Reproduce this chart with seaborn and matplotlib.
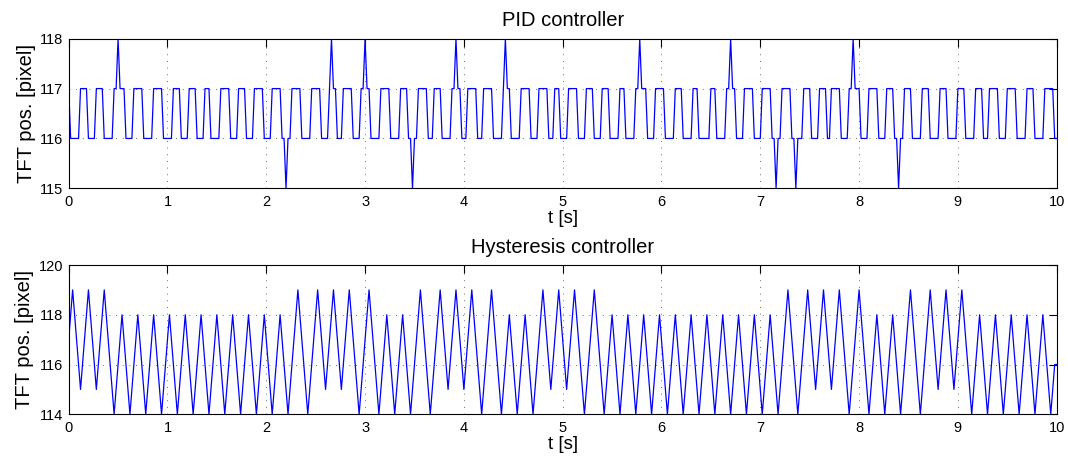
import matplotlib
matplotlib.use("Agg")
import matplotlib.pyplot as plt
import pandas as pd
import seaborn as sns

# PID controller: TFT position [pixel] at the corners of the trace, time in s
pid_t = [0.00, 0.02, 0.10, 0.12, 0.18, 0.20, 0.26, 0.28, 0.34, 0.36, 0.44, 0.46, 0.48, 0.50, 0.52,
         0.56, 0.58, 0.64, 0.66, 0.74, 0.76, 0.84, 0.86, 0.94, 0.96, 1.04, 1.06, 1.12, 1.14, 1.20,
         1.22, 1.28, 1.30, 1.36, 1.38, 1.42, 1.44, 1.52, 1.54, 1.62, 1.64, 1.70, 1.72, 1.78, 1.80,
         1.86, 1.88, 1.96, 1.98, 2.04, 2.06, 2.14, 2.16, 2.18, 2.20, 2.22, 2.24, 2.26, 2.34, 2.36,
         2.44, 2.46, 2.54, 2.56, 2.62, 2.64, 2.66, 2.68, 2.70, 2.72, 2.76, 2.78, 2.86, 2.88, 2.94,
         2.96, 2.98, 3.00, 3.02, 3.04, 3.06, 3.14, 3.16, 3.24, 3.26, 3.34, 3.36, 3.42, 3.44, 3.46,
         3.48, 3.50, 3.52, 3.54, 3.62, 3.64, 3.68, 3.70, 3.76, 3.78, 3.86, 3.88, 3.90, 3.92, 3.94,
         3.96, 3.98, 4.02, 4.04, 4.12, 4.14, 4.18, 4.20, 4.28, 4.30, 4.38, 4.40, 4.42, 4.44, 4.46,
         4.48, 4.56, 4.58, 4.66, 4.68, 4.74, 4.76, 4.84, 4.86, 4.90, 4.92, 4.96, 4.98, 5.04, 5.06,
         5.14, 5.16, 5.22, 5.24, 5.30, 5.32, 5.38, 5.40, 5.46, 5.48, 5.56, 5.58, 5.62, 5.64, 5.72,
         5.74, 5.76, 5.78, 5.80, 5.84, 5.86, 5.92, 5.94, 6.02, 6.04, 6.12, 6.14, 6.20, 6.22, 6.30,
         6.32, 6.36, 6.38, 6.48, 6.50, 6.54, 6.56, 6.64, 6.66, 6.68, 6.70, 6.72, 6.74, 6.76, 6.82,
         6.84, 6.92, 6.94, 7.00, 7.02, 7.10, 7.12, 7.14, 7.16, 7.18, 7.20, 7.22, 7.30, 7.32, 7.34,
         7.36, 7.38, 7.42, 7.44, 7.50, 7.52, 7.58, 7.60, 7.66, 7.68, 7.70, 7.72, 7.80, 7.82, 7.88,
         7.90, 7.92, 7.94, 7.96, 8.00, 8.02, 8.08, 8.10, 8.18, 8.20, 8.26, 8.28, 8.34, 8.36, 8.38,
         8.40, 8.42, 8.44, 8.46, 8.52, 8.54, 8.62, 8.64, 8.70, 8.72, 8.80, 8.82, 8.88, 8.90, 8.98,
         9.00, 9.06, 9.08, 9.16, 9.18, 9.24, 9.26, 9.30, 9.32, 9.40, 9.42, 9.48, 9.50, 9.58, 9.60,
         9.68, 9.70, 9.76, 9.78, 9.86, 9.88, 9.96, 9.98, 10.00]
pid_pos = [117, 116, 116, 117, 117, 116, 116, 117, 117, 116, 116, 117, 117, 118, 117,
           117, 116, 116, 117, 117, 116, 116, 117, 117, 116, 116, 117, 117, 116, 116,
           117, 117, 116, 116, 117, 117, 116, 116, 117, 117, 116, 116, 117, 117, 116,
           116, 117, 117, 116, 116, 117, 117, 116, 116, 115, 116, 116, 117, 117, 116,
           116, 117, 117, 116, 116, 117, 118, 117, 117, 116, 116, 117, 117, 116, 116,
           117, 117, 118, 117, 117, 116, 116, 117, 117, 116, 116, 117, 117, 116, 116,
           115, 116, 116, 117, 117, 116, 116, 117, 117, 116, 116, 117, 117, 118, 117,
           117, 116, 116, 117, 117, 116, 116, 117, 117, 116, 116, 117, 118, 117, 117,
           116, 116, 117, 117, 116, 116, 117, 117, 116, 116, 117, 117, 116, 116, 117,
           117, 116, 116, 117, 117, 116, 116, 117, 117, 116, 116, 117, 117, 116, 116,
           117, 117, 118, 117, 117, 116, 116, 117, 117, 116, 116, 117, 117, 116, 116,
           117, 117, 116, 116, 117, 117, 116, 116, 117, 117, 118, 117, 117, 116, 116,
           117, 117, 116, 116, 117, 117, 116, 116, 115, 116, 116, 117, 117, 116, 116,
           115, 116, 116, 117, 117, 116, 116, 117, 117, 116, 116, 117, 117, 116, 116,
           117, 117, 118, 117, 117, 116, 116, 117, 117, 116, 116, 117, 117, 116, 116,
           115, 116, 116, 117, 117, 116, 116, 117, 117, 116, 116, 117, 117, 116, 116,
           117, 117, 116, 116, 117, 117, 116, 116, 117, 117, 116, 116, 117, 117, 116,
           116, 117, 117, 116, 116, 117, 117, 116, 116]

# Hysteresis controller: turning points of the triangular trace
hyst_t = [0.00, 0.04, 0.12, 0.20, 0.28, 0.36, 0.46, 0.54, 0.62, 0.70, 0.78, 0.86, 0.94, 1.02,
          1.10, 1.18, 1.26, 1.34, 1.42, 1.50, 1.58, 1.66, 1.74, 1.82, 1.90, 1.98, 2.06, 2.14,
          2.22, 2.32, 2.42, 2.52, 2.60, 2.68, 2.76, 2.84, 2.94, 3.04, 3.14, 3.22, 3.30, 3.38,
          3.46, 3.56, 3.66, 3.76, 3.84, 3.92, 4.00, 4.08, 4.18, 4.28, 4.38, 4.46, 4.54, 4.62,
          4.70, 4.80, 4.88, 4.96, 5.04, 5.12, 5.22, 5.32, 5.42, 5.50, 5.58, 5.66, 5.74, 5.82,
          5.90, 5.98, 6.06, 6.14, 6.22, 6.30, 6.38, 6.46, 6.54, 6.62, 6.70, 6.78, 6.86, 6.94,
          7.02, 7.10, 7.18, 7.28, 7.38, 7.48, 7.56, 7.64, 7.72, 7.80, 7.90, 8.00, 8.10, 8.18,
          8.26, 8.34, 8.42, 8.52, 8.62, 8.72, 8.80, 8.88, 8.96, 9.04, 9.14, 9.22, 9.30, 9.38,
          9.46, 9.54, 9.62, 9.70, 9.78, 9.86, 9.94, 9.98, 10.00]
hyst_pos = [117, 119, 115, 119, 115, 119, 114, 118, 114, 118, 114, 118, 114, 118,
            114, 118, 114, 118, 114, 118, 114, 118, 114, 118, 114, 118, 114, 118,
            114, 119, 114, 119, 115, 119, 115, 119, 114, 119, 114, 118, 114, 118,
            114, 119, 114, 119, 115, 119, 115, 119, 114, 119, 114, 118, 114, 118,
            114, 119, 115, 119, 115, 119, 114, 119, 114, 118, 114, 118, 114, 118,
            114, 118, 114, 118, 114, 118, 114, 118, 114, 118, 114, 118, 114, 118,
            114, 118, 114, 119, 114, 119, 115, 119, 115, 119, 114, 119, 114, 118,
            114, 118, 114, 119, 114, 119, 115, 119, 115, 119, 114, 118, 114, 118,
            114, 118, 114, 118, 114, 118, 114, 116, 116]

t_ticks = list(range(0, 11))
pid_yticks = [115, 116, 117, 118]
hyst_yticks = [114, 116, 118, 120]

sns.set_style("white")
plt.rcParams["font.family"] = ["Liberation Sans", "DejaVu Sans"]
plt.rcParams["text.color"] = "black"
plt.rcParams["axes.labelcolor"] = "black"
plt.rcParams["axes.titlecolor"] = "black"

pid_df = pd.DataFrame({"t": pid_t, "pos": pid_pos})
hyst_df = pd.DataFrame({"t": hyst_t, "pos": hyst_pos})

fig = plt.figure(figsize=(10.68, 4.62), dpi=100)
ax1 = fig.add_axes([0.0643, 0.5924, 0.9251, 0.3238])
ax2 = fig.add_axes([0.0643, 0.1032, 0.9251, 0.3232])


def style_axes(ax, title, yticks):
    ax.set_xlim(0, 10)
    ax.set_ylim(yticks[0], yticks[-1])
    ax.set_xticks(t_ticks)
    ax.set_yticks(yticks)
    ax.grid(True, color="0.25", linestyle=(0, (1, 7)), linewidth=0.6)
    ax.set_axisbelow(True)
    ax.tick_params(direction="in", length=6, width=0.8, top=True, right=True,
                   labelsize=10.5, pad=4, colors="black")
    ax.tick_params(axis="x", pad=5)
    for sp in ax.spines.values():
        sp.set_visible(True)
        sp.set_color("black")
        sp.set_linewidth(0.8)
    ax.set_title(title, fontsize=14.5, pad=9, color="black")
    ax.set_xlabel("t [s]", fontsize=13.5, labelpad=0.5, color="black")
    ax.set_ylabel("TFT pos. [pixel]", fontsize=14.5, labelpad=3, color="black")


sns.lineplot(data=pid_df, x="t", y="pos", ax=ax1, color="#0000ff",
             linewidth=0.9, estimator=None, sort=False)
style_axes(ax1, "PID controller", pid_yticks)

sns.lineplot(data=hyst_df, x="t", y="pos", ax=ax2, color="#0000ff",
             linewidth=0.9, estimator=None, sort=False)
style_axes(ax2, "Hysteresis controller", hyst_yticks)

fig.savefig("out.png", dpi=100, facecolor="white")
